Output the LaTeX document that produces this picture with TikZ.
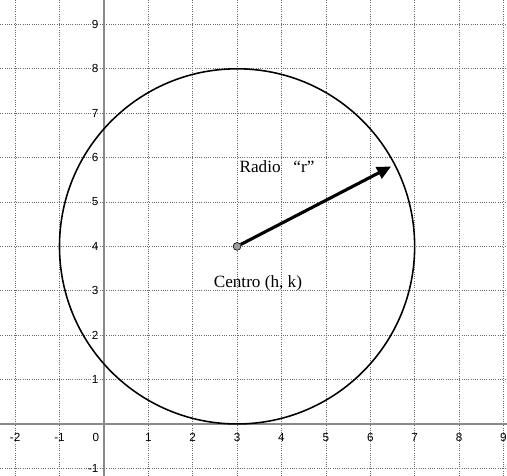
\documentclass[tikz,border=0pt]{standalone}
\usepackage{fontspec}
\setmainfont{Liberation Serif}
\newfontfamily\axisfont{Liberation Sans}
\usetikzlibrary{positioning, arrows.meta}
\definecolor{gridgray}{HTML}{6A6A6A}
\definecolor{axisgray}{HTML}{8A8A8A}
\definecolor{ptfill}{HTML}{9C9C9C}

\begin{document}
\begin{tikzpicture}[
    gridline/.style={gridgray, densely dotted, line width=0.45pt},
    axisline/.style={axisgray, line width=0.9pt},
    ticklabel/.style={font=\axisfont\fontsize{7.5}{8}\selectfont, inner sep=1pt},
    labeltext/.style={font=\fontsize{11}{13}\selectfont, inner sep=1pt},
  ]
  \useasboundingbox (-2.34,-1.17) rectangle (9.08,9.55);
  \fill[white] (-2.34,-1.17) rectangle (9.08,9.55);
  % grid
  \foreach \x in {-2,-1,1,2,...,9}
    \draw[gridline] (\x,-1.17) -- (\x,9.55);
  \foreach \y in {-1,1,2,...,9}
    \draw[gridline] (-2.34,\y) -- (9.08,\y);
  % axes
  \draw[axisline] (-2.34,0) -- (9.08,0);
  \draw[axisline] (0,-1.17) -- (0,9.55);
  % tick labels
  \foreach \x in {-2,-1,1,2,...,9}
    \node[ticklabel] (xl\x) at (\x,-0.31) {\x};
  \node[ticklabel] (xl0) at (-0.18,-0.31) {0};
  \foreach \y in {-1,1,2,...,9}
    \node[ticklabel, anchor=east] (yl\y) at (-0.08,\y) {\y};
  % circle and radius
  \draw[line width=1pt] (3,4) circle (4);
  \node[circle, draw, fill=ptfill, inner sep=0pt, minimum size=5pt] (ctr) at (3,4) {};
  \coordinate (rtip) at (6.47,5.8);
  \draw[line width=2pt, -{Triangle[length=9pt, width=8pt]}] (ctr) -- (rtip);
  \node[labeltext] (radio) at (3.9,5.8) {Radio\hspace{0.75em}``r''};
  \node[labeltext] (centro) at (3.47,3.16) {Centro (h, k)};
\end{tikzpicture}
\end{document}
